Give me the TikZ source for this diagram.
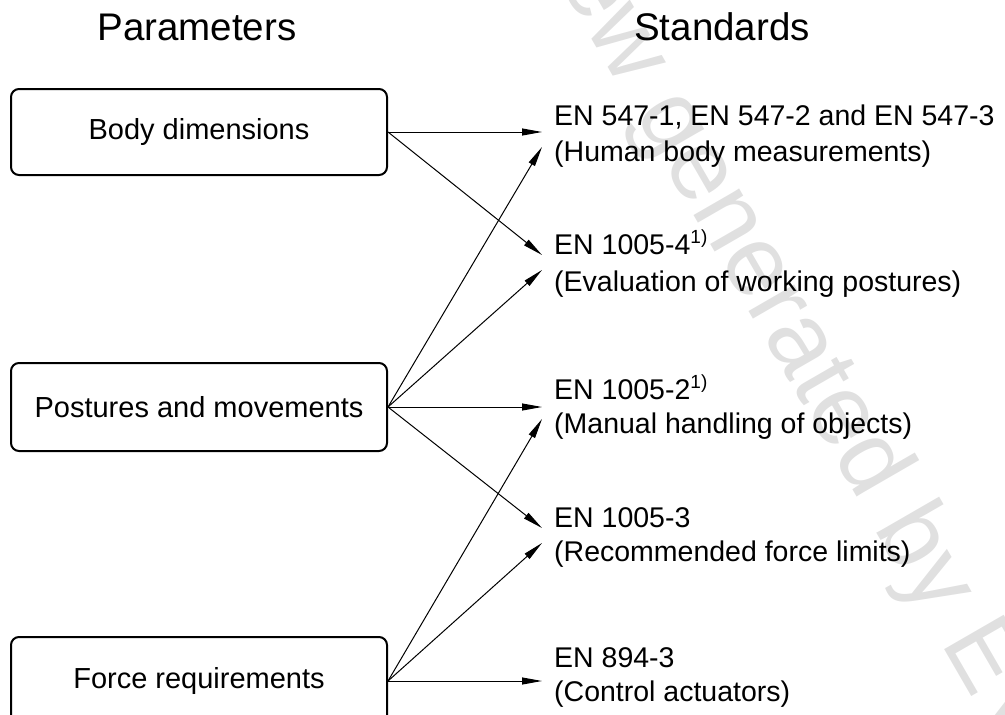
\documentclass[tikz,border=0pt]{standalone}
\usepackage{fontspec}
\setmainfont{Liberation Sans}
\usetikzlibrary{arrows.meta}
\begin{document}
\begin{tikzpicture}[x=1pt,y=-1pt,
  param/.style={draw, line width=2pt, rounded corners=8pt, minimum width=376pt, minimum height=86pt, inner sep=0pt, font=\fontsize{29}{29}\selectfont},
  title/.style={anchor=base, inner sep=0pt, font=\fontsize{38.5}{38.5}\selectfont},
  std/.style={anchor=base west, inner sep=0pt, font=\fontsize{28.5}{28.5}\selectfont},
  link/.style={line width=1pt, -{Triangle[length=20pt,width=7pt]}},
  wm/.style={rotate=-60, anchor=base west, inner sep=0pt, text=black!12, font=\fontsize{100}{100}\selectfont}]
\useasboundingbox (0,0) rectangle (1005,715);
\begin{scope}
\clip (0,0) rectangle (1005,715);
\node[wm] (watermark) at (443,-219) {Preview generated by EVS};
\end{scope}
% titles
\node[title] (tp) at (197,40) {Parameters};
\node[title] (ts) at (722,40) {Standards};
% parameter boxes
\node[param] (b1) at (199,132) {Body dimensions};
\node[param, minimum height=88pt] (b2) at (199,407) {Postures and movements};
\node[param, minimum height=88pt] (b3) at (199,681) {Force requirements};
% standards
\newcommand{\supone}{\raisebox{11pt}{\fontsize{19}{19}\selectfont 1)}}
\node[std] (s1) at (554,125) {EN 547-1, EN 547-2 and EN 547-3};
\node[std] (s1b) at (554,161) {(Human body measurements)};
\node[std] (s2) at (554,254) {EN 1005-4\supone};
\node[std] (s2b) at (554,291) {(Evaluation of working postures)};
\node[std] (s3) at (554,399) {EN 1005-2\supone};
\node[std] (s3b) at (554,433) {(Manual handling of objects)};
\node[std] (s4) at (554,527) {EN 1005-3};
\node[std] (s4b) at (554,561) {(Recommended force limits)};
\node[std] (s5) at (554,667) {EN 894-3};
\node[std] (s5b) at (554,701) {(Control actuators)};
% arrow targets
\coordinate (t1) at (542,132);
\coordinate (t2) at (542,255);
\coordinate (t3) at (542,147);
\coordinate (t4) at (542,270);
\coordinate (t5) at (542,407);
\coordinate (t6) at (542,528);
\coordinate (t7) at (542,419);
\coordinate (t8) at (542,543);
\coordinate (t9) at (542,681);
% connectors
\draw[link] (b1.east) -- (t1);
\draw[link] (b1.east) -- (t2);
\draw[link] (b2.east) -- (t3);
\draw[link] (b2.east) -- (t4);
\draw[link] (b2.east) -- (t5);
\draw[link] (b2.east) -- (t6);
\draw[link] (b3.east) -- (t7);
\draw[link] (b3.east) -- (t8);
\draw[link] (b3.east) -- (t9);
\end{tikzpicture}
\end{document}
